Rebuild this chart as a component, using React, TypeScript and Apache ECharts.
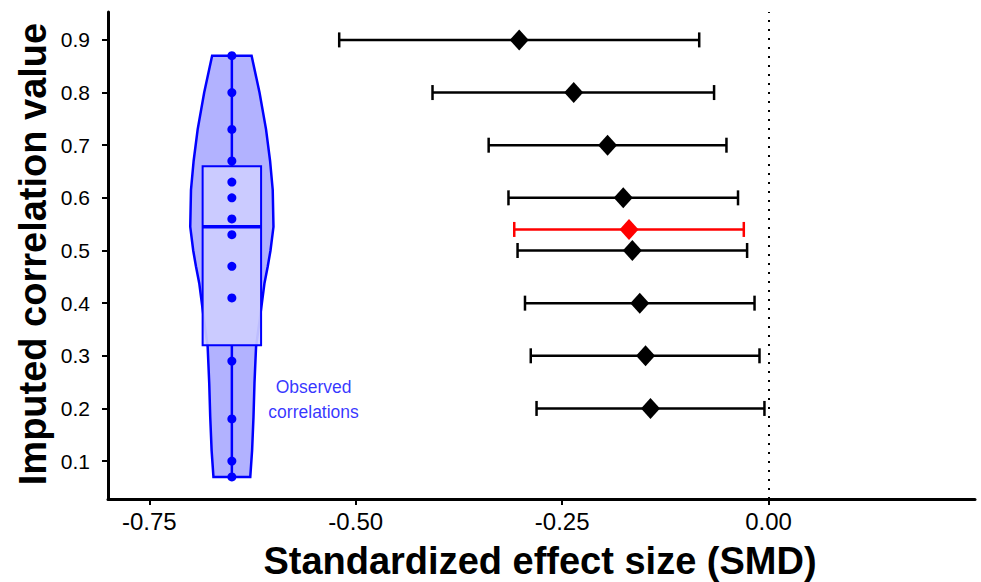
import React, { useEffect, useRef } from "react";
import * as echarts from "echarts";

// Imputed correlation levels and meta-analytic SMD results
const corrLevels = [0.9, 0.8, 0.7, 0.6, 0.5, 0.4, 0.3, 0.2];
const smdEstimate = [-0.302, -0.236, -0.195, -0.176, -0.165, -0.156, -0.149, -0.143];
const ciLower = [-0.52, -0.407, -0.339, -0.315, -0.304, -0.295, -0.288, -0.281];
const ciUpper = [-0.084, -0.066, -0.051, -0.037, -0.026, -0.017, -0.011, -0.005];

// Result using the observed (median) correlation
const observedLevel = [0.54];
const observedEstimate = [-0.169];
const observedLower = [-0.308];
const observedUpper = [-0.03];

// Observed correlations (violin / box / points)
const violinCenterX = -0.65;
const observedCorrelations = [0.87, 0.8, 0.73, 0.67, 0.63, 0.6, 0.56, 0.53, 0.47, 0.41, 0.29, 0.18, 0.1, 0.07];
const violinY = [0.07, 0.12, 0.184, 0.248, 0.317, 0.374, 0.438, 0.47, 0.5, 0.545, 0.615, 0.67, 0.73, 0.8, 0.87];
const violinHalfWidth = [0.0223, 0.0245, 0.0262, 0.0274, 0.0293, 0.0342, 0.0395, 0.0435, 0.0468, 0.0504, 0.0495, 0.0463, 0.0414, 0.0335, 0.0239];
const boxHalfWidth = 0.0354;

const xTicks = [-0.75, -0.5, -0.25, 0];
const yTicks = [0.1, 0.2, 0.3, 0.4, 0.5, 0.6, 0.7, 0.8, 0.9];

const X_MIN = -0.8;
const X_MAX = 0.25;
const Y_MIN = 0.028;
const Y_MAX = 0.953;

const FONT = "'Liberation Sans', Arial, Helvetica, sans-serif";
const BLUE = "#0000ff";

function quantile(sorted: number[], p: number) {
  const pos = (sorted.length - 1) * p;
  const lo = Math.floor(pos);
  const hi = Math.ceil(pos);
  return sorted[lo] + (sorted[hi] - sorted[lo]) * (pos - lo);
}

export default function App() {
  const ref = useRef<HTMLDivElement>(null);
  useEffect(() => {
    document.body.style.margin = "0";
    if (!ref.current) return;
    const chart = echarts.init(ref.current, null, { renderer: "svg" });

    const sorted = [...observedCorrelations].sort((a, b) => a - b);
    const q1 = quantile(sorted, 0.25);
    const med = quantile(sorted, 0.5);
    const q3 = quantile(sorted, 0.75);
    const minV = sorted[0];
    const maxV = sorted[sorted.length - 1];

    const errData = corrLevels.map((y, i) => [ciLower[i], ciUpper[i], y, smdEstimate[i]]);
    const obsErrData = observedLevel.map((y, i) => [observedLower[i], observedUpper[i], y, observedEstimate[i]]);

    const errorRender = (color: string) => (params: any, api: any) => {
      const a = api.coord([api.value(0), api.value(2)]);
      const b = api.coord([api.value(1), api.value(2)]);
      const cap = 7.5;
      const style = { stroke: color, lineWidth: 2.5 };
      return {
        type: "group",
        children: [
          { type: "line", shape: { x1: a[0], y1: a[1], x2: b[0], y2: b[1] }, style },
          { type: "line", shape: { x1: a[0], y1: a[1] - cap, x2: a[0], y2: a[1] + cap }, style },
          { type: "line", shape: { x1: b[0], y1: b[1] - cap, x2: b[0], y2: b[1] + cap }, style },
        ],
      };
    };

    const option: any = {
      animation: false,
      backgroundColor: "#ffffff",
      textStyle: { fontFamily: FONT },
      grid: { left: 108, right: 6, top: 12, bottom: 83, containLabel: false },
      xAxis: {
        type: "value",
        min: X_MIN,
        max: X_MAX,
        splitLine: { show: false },
        axisLine: { show: true, onZero: false, lineStyle: { color: "#000", width: 3 } },
        axisTick: { show: true, customValues: xTicks, length: 6, lineStyle: { color: "#000", width: 2 } },
        axisLabel: {
          customValues: xTicks,
          formatter: (v: number) => v.toFixed(2),
          color: "#000",
          fontSize: 24,
          fontFamily: FONT,
          margin: 10,
        },
      },
      yAxis: {
        type: "value",
        min: Y_MIN,
        max: Y_MAX,
        splitLine: { show: false },
        axisLine: { show: true, onZero: false, lineStyle: { color: "#000", width: 3 } },
        axisTick: { show: true, customValues: yTicks, length: 6, lineStyle: { color: "#000", width: 2 } },
        axisLabel: {
          customValues: yTicks,
          formatter: (v: number) => v.toFixed(1),
          color: "#000",
          fontSize: 21,
          fontFamily: FONT,
          margin: 18,
        },
      },
      graphic: [
        {
          type: "text",
          x: 540,
          y: 561,
          style: {
            text: "Standardized effect size (SMD)",
            fontSize: 38,
            fontWeight: "bold",
            fontFamily: FONT,
            fill: "#000",
            align: "center",
            verticalAlign: "middle",
          },
        },
        {
          type: "text",
          x: 33,
          y: 254,
          rotation: Math.PI / 2,
          style: {
            text: "Imputed correlation value",
            fontSize: 38,
            fontWeight: "bold",
            fontFamily: FONT,
            fill: "#000",
            align: "center",
            verticalAlign: "middle",
          },
        },
      ],
      series: [
        {
          type: "custom",
          name: "violin",
          z: 1,
          data: [[violinCenterX, med]],
          renderItem: (params: any, api: any) => {
            const left: number[][] = [];
            const right: number[][] = [];
            for (let i = 0; i < violinY.length; i++) {
              left.push(api.coord([violinCenterX - violinHalfWidth[i], violinY[i]]));
              right.push(api.coord([violinCenterX + violinHalfWidth[i], violinY[i]]));
            }
            const pts = left.concat(right.reverse());
            return {
              type: "polygon",
              shape: { points: pts },
              style: { fill: "rgba(0,0,255,0.3)", stroke: BLUE, lineWidth: 2.5 },
            };
          },
        },
        {
          type: "custom",
          name: "box",
          z: 2,
          data: [[violinCenterX, med]],
          renderItem: (params: any, api: any) => {
            const tl = api.coord([violinCenterX - boxHalfWidth, q3]);
            const br = api.coord([violinCenterX + boxHalfWidth, q1]);
            const ml = api.coord([violinCenterX - boxHalfWidth, med]);
            const mr = api.coord([violinCenterX + boxHalfWidth, med]);
            const top = api.coord([violinCenterX, maxV]);
            const bot = api.coord([violinCenterX, minV]);
            return {
              type: "group",
              children: [
                {
                  type: "rect",
                  shape: { x: tl[0], y: tl[1], width: br[0] - tl[0], height: br[1] - tl[1] },
                  style: { fill: "rgba(205,205,255,0.92)", stroke: BLUE, lineWidth: 2 },
                },
                { type: "line", shape: { x1: ml[0], y1: ml[1], x2: mr[0], y2: mr[1] }, style: { stroke: BLUE, lineWidth: 3.5 } },
                { type: "line", shape: { x1: top[0], y1: top[1], x2: top[0], y2: tl[1] }, style: { stroke: BLUE, lineWidth: 2.5 } },
                { type: "line", shape: { x1: bot[0], y1: br[1], x2: bot[0], y2: bot[1] }, style: { stroke: BLUE, lineWidth: 2.5 } },
              ],
            };
          },
        },
        {
          type: "scatter",
          name: "points",
          z: 3,
          symbol: "circle",
          symbolSize: 9,
          itemStyle: { color: BLUE, opacity: 1 },
          data: observedCorrelations.map((c) => [violinCenterX, c]),
        },
        {
          type: "scatter",
          name: "label",
          z: 3,
          symbolSize: 0,
          data: [[-0.551, 0.2175]],
          label: {
            show: true,
            position: "inside",
            formatter: "Observed\ncorrelations",
            color: BLUE,
            fontSize: 17.5,
            fontFamily: FONT,
            lineHeight: 25,
            align: "center",
            verticalAlign: "middle",
          },
          silent: true,
        },
        {
          type: "custom",
          name: "ci",
          z: 4,
          data: errData,
          renderItem: errorRender("#000000"),
          markLine: {
            silent: true,
            symbol: "none",
            label: { show: false },
            lineStyle: { color: "#000", width: 2, type: [2, 7] },
            data: [{ xAxis: 0 }],
          },
        },
        {
          type: "custom",
          name: "ciObserved",
          z: 4,
          data: obsErrData,
          renderItem: errorRender("#ff0000"),
        },
        {
          type: "scatter",
          name: "est",
          z: 5,
          symbol: "diamond",
          symbolSize: [19, 21],
          itemStyle: { color: "#000", opacity: 1 },
          data: corrLevels.map((y, i) => [smdEstimate[i], y]),
        },
        {
          type: "scatter",
          name: "estObserved",
          z: 5,
          symbol: "diamond",
          symbolSize: [19, 21],
          itemStyle: { color: "#ff0000", opacity: 1 },
          data: observedLevel.map((y, i) => [observedEstimate[i], y]),
        },
      ],
    };
    chart.setOption(option);
    return () => chart.dispose();
  }, []);
  return <div ref={ref} style={{ width: 981, height: 582 }} />;
}
